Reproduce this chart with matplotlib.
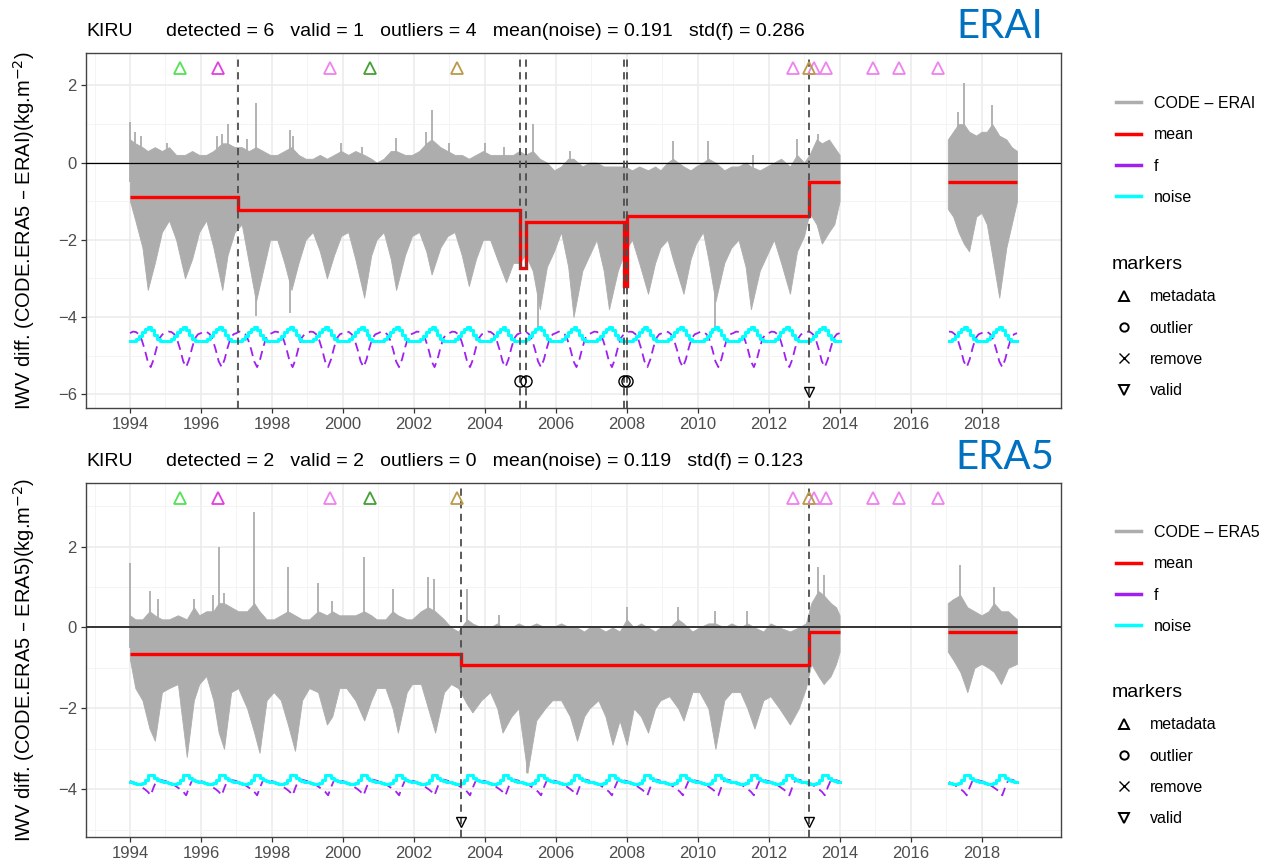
import numpy as np
import matplotlib
matplotlib.use("Agg")
import matplotlib.pyplot as plt
from matplotlib.lines import Line2D

plt.rcParams['font.family'] = ['Liberation Sans', 'DejaVu Sans']

# ---------------- data : top panel (CODE - ERAI) ----------------
top_t = [1994.00, 1994.15, 1994.35, 1994.50, 1994.70, 1994.90, 1995.10, 1995.30, 1995.55, 1995.75,
         1995.95, 1996.15, 1996.35, 1996.60, 1996.75, 1996.95, 1997.15, 1997.35, 1997.55, 1997.75,
         1997.95, 1998.15, 1998.35, 1998.55, 1998.75, 1998.95, 1999.15, 1999.35, 1999.55, 1999.75,
         1999.95, 2000.15, 2000.35, 2000.60, 2000.80, 2000.95, 2001.15, 2001.35, 2001.50, 2001.75,
         2001.95, 2002.15, 2002.35, 2002.50, 2002.75, 2002.95, 2003.15, 2003.35, 2003.55, 2003.75,
         2003.95, 2004.15, 2004.35, 2004.60, 2004.80, 2004.97, 2005.15, 2005.35, 2005.55, 2005.75,
         2005.95, 2006.15, 2006.35, 2006.50, 2006.75, 2006.95, 2007.15, 2007.35, 2007.50, 2007.75,
         2007.95, 2008.15, 2008.35, 2008.60, 2008.80, 2008.95, 2009.15, 2009.30, 2009.60, 2009.80,
         2009.95, 2010.15, 2010.30, 2010.50, 2010.75, 2010.95, 2011.15, 2011.35, 2011.50, 2011.75,
         2011.95, 2012.15, 2012.35, 2012.60, 2012.80, 2013.00, 2013.15, 2013.35, 2013.50, 2013.70,
         2013.85, 2014.00,
         2017.05, 2017.20, 2017.35, 2017.50, 2017.65, 2017.85, 2018.00, 2018.15, 2018.30, 2018.50,
         2018.70, 2018.85, 2019.00]
top_lo = [-1.0, -1.5, -2.2, -3.3, -2.6, -1.8, -1.5, -2.0, -3.0, -2.5,
          -1.8, -1.5, -2.2, -3.3, -2.4, -1.8, -1.6, -2.6, -3.6, -2.8,
          -2.0, -2.0, -2.6, -3.3, -2.6, -2.0, -1.8, -2.3, -3.0, -2.4,
          -1.9, -1.8, -2.5, -3.5, -2.4, -2.0, -1.8, -2.5, -3.3, -2.4,
          -1.9, -1.8, -2.3, -2.9, -2.2, -1.9, -1.8, -2.4, -3.2, -2.5,
          -2.0, -2.0, -2.5, -3.1, -2.6, -2.6, -2.4, -2.8, -3.8, -2.7,
          -2.3, -1.8, -2.7, -4.0, -2.8, -2.4, -2.0, -2.8, -3.8, -2.8,
          -2.3, -2.0, -2.6, -3.4, -2.6, -2.2, -2.0, -2.5, -3.4, -2.5,
          -2.1, -1.8, -2.5, -3.6, -2.6, -2.2, -2.0, -2.7, -3.8, -2.8,
          -2.4, -2.0, -2.6, -3.4, -2.3, -1.9, -1.3, -1.6, -2.1, -1.8,
          -1.6, -1.0,
          -1.2, -1.4, -1.8, -2.1, -2.3, -1.4, -1.3, -1.6, -2.4, -3.5,
          -2.2, -1.6, -1.0]
top_hi = [0.6, 0.5, 0.4, 0.3, 0.4, 0.3, 0.4, 0.2, 0.2, 0.3,
          0.2, 0.2, 0.3, 0.5, 0.5, 0.4, 0.4, 0.3, 0.4, 0.3,
          0.2, 0.2, 0.3, 0.4, 0.2, 0.1, 0.1, 0.2, 0.1, 0.2,
          0.3, 0.2, 0.3, 0.2, 0.1, 0.0, 0.1, 0.3, 0.3, 0.2,
          0.2, 0.3, 0.5, 0.6, 0.4, 0.3, 0.2, 0.2, 0.1, 0.2,
          0.3, 0.2, 0.2, 0.2, 0.2, 0.3, 0.2, 0.3, 0.1, 0.0,
          -0.2, -0.1, 0.1, 0.1, -0.1, 0.0, 0.0, -0.1, -0.1, -0.1,
          -0.1, -0.2, -0.1, -0.2, -0.1, -0.2, 0.0, 0.1, -0.1, -0.2,
          -0.1, 0.0, 0.1, 0.0, -0.2, -0.1, -0.1, 0.0, -0.1, -0.2,
          -0.1, 0.0, 0.1, -0.1, 0.2, 0.0, 0.2, 0.6, 0.5, 0.6,
          0.4, 0.2,
          0.6, 0.8, 1.0, 1.0, 0.8, 0.7, 0.8, 0.8, 1.0, 0.7,
          0.6, 0.4, 0.3]
top_up_t = [1994.00, 1994.15, 1994.30, 1995.05, 1996.45, 1996.60, 1996.75, 1997.30, 1997.55, 1998.50,
            1998.60, 1999.95, 2000.55, 2001.50, 2002.35, 2002.50, 2003.00, 2004.00, 2004.55, 2005.35,
            2006.40, 2009.30, 2010.30, 2011.55, 2012.80, 2013.40, 2017.35, 2017.50, 2018.30]
top_up_v = [1.05, 0.8, 0.7, 0.5, 0.7, 0.75, 1.0, 0.6, 1.55, 0.85,
            0.7, 0.5, 0.4, 0.65, 0.8, 1.35, 0.5, 0.5, 0.4, 1.0,
            0.3, 0.55, 0.55, 0.2, 0.6, 0.75, 1.3, 2.05, 1.5]
top_dn_t = [1997.55, 1998.50, 2005.50, 2010.50]
top_dn_v = [-3.98, -3.90, -4.35, -4.28]

top_mean_edges = [[1994.0, 1997.03, 2005.0, 2005.17, 2007.92, 2008.0, 2013.15, 2014.0],
                  [2017.05, 2019.0]]
top_mean_vals = [[-0.9, -1.22, -2.72, -1.55, -3.2, -1.38, -0.5],
                 [-0.5]]
top_noise_cycle = [-4.62, -4.62, -4.58, -4.50, -4.40, -4.30, -4.25, -4.35, -4.47, -4.57, -4.62, -4.62]
top_f_cycle = [-4.42, -4.38, -4.39, -4.45, -4.60, -4.85, -5.15, -5.30, -5.10, -4.80, -4.55, -4.45]
top_changes = [1997.03, 2005.0, 2005.17, 2007.92, 2008.0, 2013.15]
top_outliers = [2005.0, 2005.17, 2007.92, 2008.0]
top_valid = [2013.15]
top_title = "detected = 6   valid = 1   outliers = 4   mean(noise) = 0.191   std(f) = 0.286"

# ---------------- data : bottom panel (CODE - ERA5) ----------------
bot_t = [1994.00, 1994.15, 1994.35, 1994.55, 1994.70, 1994.90, 1995.10, 1995.35, 1995.60, 1995.80,
         1995.95, 1996.15, 1996.35, 1996.50, 1996.65, 1996.85, 1997.05, 1997.30, 1997.50, 1997.65,
         1997.85, 1998.05, 1998.25, 1998.45, 1998.65, 1998.85, 1999.05, 1999.30, 1999.55, 1999.70,
         1999.90, 2000.10, 2000.35, 2000.60, 2000.80, 2000.95, 2001.20, 2001.40, 2001.55, 2001.80,
         2001.95, 2002.20, 2002.40, 2002.60, 2002.85, 2003.05, 2003.25, 2003.50, 2003.65, 2003.90,
         2004.15, 2004.35, 2004.50, 2004.75, 2004.95, 2005.20, 2005.45, 2005.70, 2005.90, 2006.15,
         2006.40, 2006.60, 2006.80, 2006.95, 2007.20, 2007.40, 2007.60, 2007.80, 2008.00, 2008.20,
         2008.40, 2008.60, 2008.80, 2008.95, 2009.20, 2009.45, 2009.60, 2009.85, 2010.05, 2010.30,
         2010.50, 2010.75, 2010.95, 2011.20, 2011.40, 2011.60, 2011.85, 2012.05, 2012.30, 2012.60,
         2012.85, 2013.05, 2013.20, 2013.40, 2013.55, 2013.75, 2013.90, 2014.00,
         2017.05, 2017.20, 2017.40, 2017.60, 2017.80, 2018.00, 2018.20, 2018.35, 2018.55, 2018.75,
         2019.00]
bot_lo = [-0.8, -1.5, -1.8, -2.5, -2.8, -1.6, -1.5, -1.4, -3.2, -1.8,
          -1.4, -1.2, -1.8, -2.6, -3.0, -1.6, -1.5, -2.0, -2.6, -3.1,
          -1.8, -1.6, -1.8, -2.4, -3.05, -1.8, -1.5, -1.6, -2.4, -2.2,
          -1.5, -1.5, -1.8, -2.3, -1.8, -1.5, -1.5, -2.0, -2.6, -1.6,
          -1.4, -1.4, -2.0, -2.6, -1.6, -1.4, -1.5, -1.9, -2.1, -1.8,
          -1.6, -2.0, -2.6, -2.2, -2.0, -3.6, -2.3, -2.0, -1.8, -1.8,
          -2.2, -2.8, -2.2, -2.0, -1.8, -2.2, -2.9, -2.3, -2.9, -2.0,
          -2.2, -2.6, -2.0, -1.8, -1.7, -2.0, -2.3, -1.6, -1.6, -2.0,
          -3.0, -1.8, -1.6, -1.6, -2.0, -2.5, -1.8, -1.7, -2.0, -2.4,
          -2.0, -1.5, -0.9, -1.2, -1.4, -1.2, -0.9, -0.6,
          -0.6, -0.8, -1.1, -1.6, -1.0, -0.9, -1.0, -1.1, -1.4, -1.0,
          -0.9]
bot_hi = [0.3, 0.2, 0.2, 0.4, 0.3, 0.2, 0.2, 0.3, 0.2, 0.5,
          0.3, 0.4, 0.4, 0.6, 0.6, 0.5, 0.4, 0.4, 0.6, 0.4,
          0.2, 0.2, 0.3, 0.4, 0.3, 0.2, 0.2, 0.4, 0.3, 0.4,
          0.3, 0.3, 0.3, 0.4, 0.3, 0.2, 0.2, 0.4, 0.3, 0.2,
          0.2, 0.4, 0.5, 0.4, 0.2, 0.0, -0.1, 0.2, 0.1, 0.0,
          0.0, 0.1, 0.0, 0.0, 0.1, 0.0, 0.1, 0.0, 0.0, 0.1,
          0.0, 0.0, -0.1, 0.0, 0.0, -0.1, 0.0, -0.1, 0.2, 0.0,
          0.1, 0.0, -0.1, 0.0, 0.0, 0.2, 0.1, -0.1, 0.0, 0.1,
          0.1, 0.0, 0.1, 0.0, 0.1, 0.0, -0.1, 0.1, 0.0, -0.1,
          0.0, 0.1, 0.6, 0.9, 0.8, 0.6, 0.5, 0.3,
          0.6, 0.7, 0.8, 0.5, 0.4, 0.3, 0.4, 0.6, 0.4, 0.4,
          0.2]
bot_up_t = [1994.00, 1994.55, 1994.80, 1995.80, 1996.35, 1996.50, 1996.65, 1997.50, 1998.45, 1999.30,
            1999.70, 2000.60, 2001.40, 2002.40, 2002.58, 2003.50, 2004.40, 2008.00, 2009.45, 2010.50,
            2011.40, 2013.40, 2013.55, 2017.40, 2018.35]
bot_up_v = [1.6, 0.9, 0.7, 0.7, 0.8, 2.0, 0.85, 2.85, 1.5, 1.1,
            0.65, 1.75, 0.95, 1.25, 1.2, 0.95, 0.3, 0.5, 0.5, 0.4,
            0.4, 1.5, 1.3, 1.55, 1.0]
bot_dn_t = [2005.20]
bot_dn_v = [-3.6]

bot_mean_edges = [[1994.0, 2003.33, 2013.13, 2014.0],
                  [2017.05, 2019.0]]
bot_mean_vals = [[-0.65, -0.93, -0.12],
                 [-0.12]]
bot_noise_cycle = [-3.82, -3.85, -3.87, -3.88, -3.85, -3.78, -3.65, -3.65, -3.72, -3.78, -3.80, -3.82]
bot_f_cycle = [-3.80, -3.82, -3.86, -3.90, -3.95, -4.00, -4.06, -4.15, -3.95, -3.78, -3.76, -3.78]
bot_changes = [2003.33, 2013.13]
bot_outliers = []
bot_valid = [2003.33, 2013.13]
bot_title = "detected = 2   valid = 2   outliers = 0   mean(noise) = 0.119   std(f) = 0.123"

data_periods = [(1994.0, 2014.0), (2017.05, 2019.0)]

meta_t = [1995.42, 1996.48, 1999.65, 2000.76, 2003.22, 2012.70, 2013.14, 2013.28, 2013.63,
          2014.93, 2015.66, 2016.78]
meta_kind = ['g1', 'm1', 'v', 'g2', 't', 'v', 't', 'v', 'v', 'v', 'v', 'v']
meta_colors = {'g1': '#55E055', 'm1': '#E040E0', 'v': '#EE82EE', 'g2': '#44A033', 't': '#BB9A4A'}

GRAY = '#ADADAD'
PURPLE = '#A020F0'
CYAN = '#00FFFF'

W, H = 1265, 861
fig = plt.figure(figsize=(W / 100, H / 100), dpi=100)


def fx(px):
    return px / W


def fy(py):
    return 1 - py / H


def cycle_series(cycle):
    ts, vs = [], []
    for a, b in data_periods:
        k0, k1 = int(round(a * 12)), int(round(b * 12))
        ks = np.arange(k0, k1 + 1)
        ts.append(ks / 12.0)
        vs.append(np.array([cycle[k % 12] for k in ks]))
    return ts, vs


def panel(ax, t, lo, hi, up_t, up_v, dn_t, dn_v, m_edges, m_vals, noise_c, f_c, changes, outl,
          valid, ylim, meta_y, out_y, val_y, ylabel, majy, miny, zero_style):
    t = np.asarray(t); lo = np.asarray(lo); hi = np.asarray(hi)
    cut = np.where(np.diff(t) > 1.0)[0] + 1
    for idx in np.split(np.arange(len(t)), cut):
        ax.fill_between(t[idx], lo[idx], hi[idx], color=GRAY, lw=0.6, ec=GRAY, zorder=2)
    ax.vlines(up_t, [-0.5] * len(up_t), up_v, color=GRAY, lw=1.3, zorder=2)
    ax.vlines(dn_t, [-2.5] * len(dn_t), dn_v, color=GRAY, lw=1.3, zorder=2)
    ax.axhline(0, zorder=3, **zero_style)
    ts, vs = cycle_series(f_c)
    for a, b in zip(ts, vs):
        ax.plot(a, b, color=PURPLE, lw=1.3, dashes=(5, 3), zorder=4)
    ts, vs = cycle_series(noise_c)
    for a, b in zip(ts, vs):
        ax.plot(a, b, color=CYAN, lw=2.2, drawstyle='steps-post', zorder=4)
    for e, v in zip(m_edges, m_vals):
        ax.stairs(v, e, baseline=None, color='red', lw=2.4, zorder=5)
    for c in changes:
        ax.axvline(c, color='#4D4D4D', lw=1.3, dashes=(4, 3), zorder=6)
    for kind in meta_colors:
        xs = [x for x, k in zip(meta_t, meta_kind) if k == kind]
        ax.plot(xs, [meta_y] * len(xs), ls='none', marker='^', mfc='none',
                mec=meta_colors[kind], ms=8, mew=1.3, zorder=7)
    if outl:
        ax.plot(outl, [out_y] * len(outl), ls='none', marker='o', mfc='none', mec='black',
                ms=8, mew=1.0, zorder=7)
    ax.plot(valid, [val_y] * len(valid), ls='none', marker='v', mfc='none', mec='black',
            ms=7, mew=1.0, zorder=7)

    ax.set_xlim(1992.76, 2020.24)
    ax.set_ylim(*ylim)
    ax.set_xticks(np.arange(1994, 2019, 2))
    ax.set_xticks(np.arange(1993, 2021, 2), minor=True)
    ax.set_yticks(majy)
    ax.set_yticks(miny, minor=True)
    ax.grid(which='major', color='#EBEBEB', lw=1.1)
    ax.grid(which='minor', color='#F2F2F2', lw=0.6)
    ax.set_axisbelow(True)
    ax.tick_params(which='major', direction='out', length=3.5, width=0.9, color='#333333',
                   labelcolor='#4D4D4D', labelsize=12, pad=3)
    ax.tick_params(which='minor', length=0)
    for s in ax.spines.values():
        s.set_color('#444444'); s.set_linewidth(1.0)
    ax.set_ylabel(ylabel, fontsize=14.5, labelpad=15)


ax1 = fig.add_axes([fx(86), fy(408), fx(975), 355 / H])
ax2 = fig.add_axes([fx(86), fy(837), fx(975), 354 / H])

panel(ax1, top_t, top_lo, top_hi, top_up_t, top_up_v, top_dn_t, top_dn_v,
      top_mean_edges, top_mean_vals, top_noise_cycle, top_f_cycle, top_changes, top_outliers,
      top_valid, (-6.36, 2.84), 2.45, -5.65, -5.95,
      'IWV diff. (CODE.ERA5 \u2013 ERAI)(kg.m$^{-2}$)', [-6, -4, -2, 0, 2], [-5, -3, -1, 1],
      dict(color='black', lw=0.9))
panel(ax2, bot_t, bot_lo, bot_hi, bot_up_t, bot_up_v, bot_dn_t, bot_dn_v,
      bot_mean_edges, bot_mean_vals, bot_noise_cycle, bot_f_cycle, bot_changes, bot_outliers,
      bot_valid, (-5.18, 3.57), 3.2, -4.5, -4.8,
      'IWV diff. (CODE.ERA5 \u2013 ERA5)(kg.m$^{-2}$)', [-4, -2, 0, 2], [-5, -3, -1, 1, 3],
      dict(color='#333333', lw=1.4))

# titles
for ytop, txt in [(31, top_title), (462, bot_title)]:
    fig.text(fx(86), fy(ytop), 'KIRU', fontsize=14, ha='left', va='center')
    fig.text(fx(166), fy(ytop), txt, fontsize=14, ha='left', va='center')

fig.text(fx(1000), fy(26), 'ERAI', fontsize=29, color='#0070C0', ha='center', va='center',
         family=['Lato', 'DejaVu Sans'])
fig.text(fx(1005), fy(458), 'ERA5', fontsize=29, color='#0070C0', ha='center', va='center',
         family=['Lato', 'DejaVu Sans'])


def legends(y_first, y_title, series_label):
    hl = [Line2D([], [], color=GRAY, lw=2.5), Line2D([], [], color='red', lw=2.5),
          Line2D([], [], color=PURPLE, lw=2.5), Line2D([], [], color=CYAN, lw=2.5)]
    fig.legend(hl, [series_label, 'mean', 'f', 'noise'], loc='upper left',
               bbox_to_anchor=(fx(1116), fy(y_first - 7)), frameon=False, fontsize=11.5,
               handlelength=1.55, handletextpad=0.8, labelspacing=1.02, borderpad=0,
               borderaxespad=0)
    mk = [Line2D([], [], ls='none', marker='^', mfc='none', mec='black', ms=7, mew=1.4),
          Line2D([], [], ls='none', marker='o', mfc='none', mec='black', ms=6, mew=1.4),
          Line2D([], [], ls='none', marker='x', color='black', ms=7, mew=1.0),
          Line2D([], [], ls='none', marker='v', mfc='none', mec='black', ms=7, mew=1.4)]
    fig.legend(mk, ['metadata', 'outlier', 'remove', 'valid'], loc='upper left',
               bbox_to_anchor=(fx(1112), fy(y_title - 5)), frameon=False, fontsize=11.5,
               handlelength=1.55, handletextpad=0.8, labelspacing=1.02, borderpad=0,
               borderaxespad=0, title='markers', title_fontsize=14, alignment='left')


legends(103, 261, 'CODE \u2013 ERAI')
legends(532, 689, 'CODE \u2013 ERA5')

fig.savefig('out.png', dpi=100)
